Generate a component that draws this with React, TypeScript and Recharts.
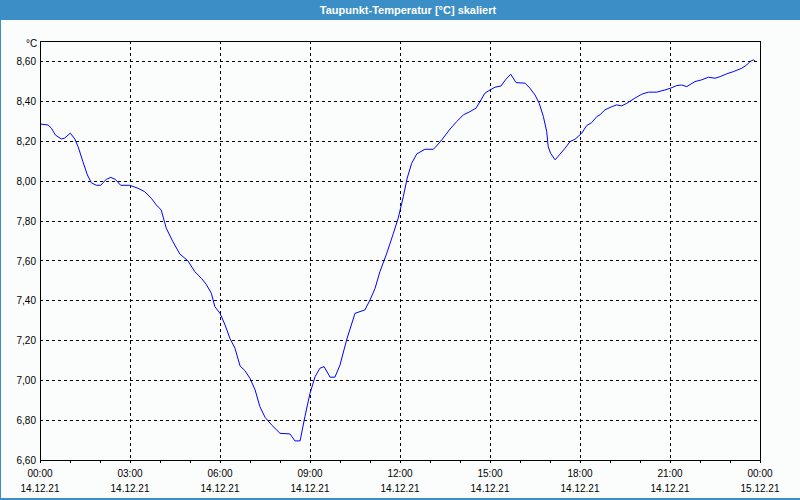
import { LineChart, Line, XAxis, YAxis, CartesianGrid, ReferenceArea } from 'recharts';

// hours since 14.12.21 00:00
const hours = [
  0.0, 0.27, 0.38, 0.51, 0.71, 0.82, 1.01, 1.16, 1.27, 1.43, 1.58, 1.71, 1.88, 2.02, 2.21, 2.36, 2.51,
  2.69, 2.99, 3.27, 3.49, 3.71, 3.88, 4.04, 4.21, 4.43, 4.66, 4.93, 5.16, 5.38, 5.54, 5.71, 5.83, 6.0,
  6.17, 6.33, 6.5, 6.67, 6.83, 7.0, 7.17, 7.33, 7.5, 7.72, 8.0, 8.33, 8.5, 8.67, 8.83, 9.0, 9.17, 9.33,
  9.47, 9.67, 9.83, 10.0, 10.22, 10.5, 10.83, 11.0, 11.17, 11.33, 11.56, 11.78, 11.94, 12.11, 12.24,
  12.39, 12.56, 12.83, 13.11, 13.22, 13.39, 13.67, 13.89, 14.11, 14.33, 14.53, 14.67, 14.83, 15.0,
  15.17, 15.37, 15.53, 15.69, 15.87, 16.17, 16.33, 16.5, 16.64, 16.78, 16.89, 16.94, 17.02, 17.17,
  17.33, 17.5, 17.67, 17.83, 18.06, 18.22, 18.39, 18.56, 18.67, 18.83, 19.06, 19.22, 19.39, 19.56,
  19.83, 20.06, 20.28, 20.56, 20.83, 21.02, 21.22, 21.39, 21.56, 21.83, 22.06, 22.28, 22.5, 22.67,
  22.89, 23.11, 23.39, 23.56, 23.67, 23.78, 23.83,
];

const dewPoint = [
  8.288, 8.283, 8.267, 8.233, 8.213, 8.217, 8.242, 8.213, 8.174, 8.099, 8.032, 7.993, 7.98, 7.98, 8.01,
  8.02, 8.01, 7.98, 7.98, 7.965, 7.948, 7.915, 7.881, 7.856, 7.764, 7.697, 7.635, 7.601, 7.546, 7.513,
  7.483, 7.438, 7.37, 7.337, 7.278, 7.211, 7.161, 7.072, 7.049, 7.01, 6.952, 6.868, 6.815, 6.776, 6.734,
  6.731, 6.696, 6.696, 6.818, 6.935, 7.019, 7.061, 7.069, 7.016, 7.016, 7.077, 7.203, 7.337, 7.354,
  7.404, 7.463, 7.546, 7.639, 7.739, 7.815, 7.923, 8.016, 8.091, 8.138, 8.161, 8.161, 8.178, 8.208,
  8.263, 8.3, 8.334, 8.35, 8.367, 8.401, 8.443, 8.459, 8.473, 8.479, 8.513, 8.538, 8.496, 8.493, 8.468,
  8.434, 8.392, 8.325, 8.25, 8.174, 8.141, 8.108, 8.136, 8.166, 8.2, 8.211, 8.242, 8.28, 8.295, 8.325,
  8.335, 8.359, 8.375, 8.384, 8.379, 8.392, 8.418, 8.438, 8.448, 8.448, 8.459, 8.468, 8.481, 8.484,
  8.476, 8.501, 8.51, 8.523, 8.518, 8.526, 8.54, 8.551, 8.568, 8.585, 8.602, 8.61, 8.606,
];

const hourTicks = [0, 1, 2, 3, 4, 5, 6, 7, 8, 9, 10, 11, 12, 13, 14, 15, 16, 17, 18, 19, 20, 21, 22, 23, 24];
const gridHours = [0, 3, 6, 9, 12, 15, 18, 21, 24];
const timeLabels = ['00:00', '03:00', '06:00', '09:00', '12:00', '15:00', '18:00', '21:00', '00:00'];
const dateLabels = ['14.12.21', '14.12.21', '14.12.21', '14.12.21', '14.12.21', '14.12.21', '14.12.21', '14.12.21', '15.12.21'];
const valueTicks = [6.6, 6.8, 7.0, 7.2, 7.4, 7.6, 7.8, 8.0, 8.2, 8.4, 8.6];
const xMin = 0;
const xMax = 24;
const yMin = 6.6;
const yMax = 8.705;

const data = hours.map((h, i) => ({ h, v: dewPoint[i] }));

const font = "'Liberation Sans', Arial, sans-serif";

function HourTick(props: any) {
  const { x, y, payload } = props;
  const idx = gridHours.indexOf(payload.value);
  if (idx < 0) return null;
  return (
    <g>
      <text x={x} y={y + 12} textAnchor="middle" fontSize={10} fontFamily={font} fill="#000">
        {timeLabels[idx]}
      </text>
      <text x={x} y={y + 27} textAnchor="middle" fontSize={10} fontFamily={font} fill="#000">
        {dateLabels[idx]}
      </text>
    </g>
  );
}

// vertical grid only every 3 hours
function gridX({ xAxis, offset }: any): number[] {
  if (xAxis && typeof xAxis.scale === 'function') {
    return gridHours.map((h) => xAxis.scale(h));
  }
  return gridHours.map((h) => offset.left + ((h - xMin) / (xMax - xMin)) * offset.width);
}

export default function App() {
  return (
    <div style={{ position: 'absolute', left: 0, top: 0, width: 800, height: 500, background: '#fbfdfc', overflow: 'hidden' }}>
      <style>{`
        .recharts-cartesian-grid line,
        .recharts-reference-area-rect,
        .recharts-cartesian-axis-line,
        .recharts-cartesian-axis-tick-line { shape-rendering: crispEdges; }
      `}</style>
      <LineChart width={800} height={500} data={data} margin={{ top: 41, right: 40, bottom: 2, left: 4 }}>
        <CartesianGrid stroke="#000" strokeDasharray="3 3" verticalCoordinatesGenerator={gridX} />
        <XAxis
          dataKey="h"
          type="number"
          domain={[xMin, xMax]}
          ticks={hourTicks}
          interval={0}
          height={38}
          tickSize={3}
          axisLine={{ stroke: '#000' }}
          tickLine={{ stroke: '#000' }}
          tick={<HourTick />}
        />
        <YAxis
          type="number"
          domain={[yMin, yMax]}
          allowDataOverflow
          ticks={valueTicks}
          interval={0}
          width={36}
          tickSize={0}
          tickMargin={4}
          tickLine={false}
          axisLine={{ stroke: '#000' }}
          tickFormatter={(v: number) => v.toFixed(2).replace('.', ',')}
          tick={{ fontSize: 10, fontFamily: font, fill: '#000' }}
        />
        <ReferenceArea
          x1={xMin}
          x2={xMax}
          y1={yMin}
          y2={yMax}
          fill="none"
          fillOpacity={0}
          stroke="#000"
          strokeOpacity={1}
          ifOverflow="visible"
        />
        <Line
          type="linear"
          dataKey="v"
          stroke="#0000ff"
          strokeWidth={1}
          dot={false}
          isAnimationActive={false}
        />
      </LineChart>
      <div
        style={{
          position: 'absolute', left: 0, top: 0, width: 800, height: 20, background: '#3c8fc6',
          color: '#fff', fontFamily: font, fontWeight: 'bold', fontSize: 11, lineHeight: '20px',
          textAlign: 'center', paddingLeft: 16, boxSizing: 'border-box',
        }}
      >
        Taupunkt-Temperatur [°C] skaliert
      </div>
      <div style={{ position: 'absolute', left: 0, top: 20, width: 1, height: 480, background: '#3c8fc6' }} />
      <div style={{ position: 'absolute', left: 0, top: 498, width: 800, height: 2, background: '#3c8fc6' }} />
      <span style={{ position: 'absolute', left: 26, top: 38, fontFamily: font, fontSize: 10, color: '#000' }}>°C</span>
    </div>
  );
}
